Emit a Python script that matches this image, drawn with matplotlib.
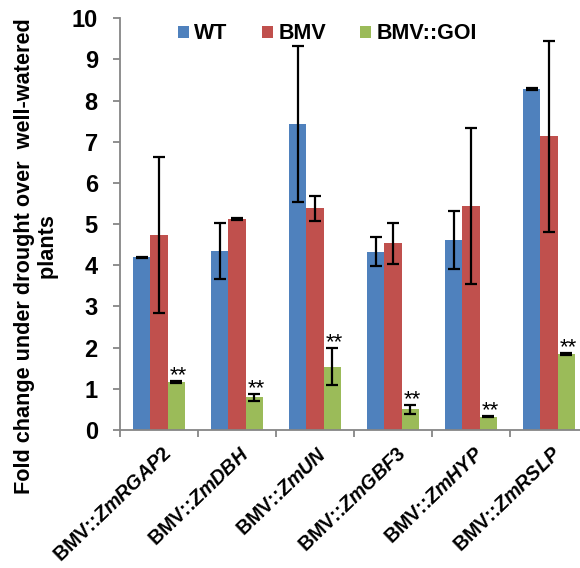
import numpy as np
import matplotlib.pyplot as plt
from matplotlib.transforms import ScaledTranslation

plt.rcParams['font.family'] = 'Liberation Sans'
plt.rcParams['mathtext.fontset'] = 'custom'
plt.rcParams['mathtext.it'] = 'Liberation Sans:italic:bold'
plt.rcParams['mathtext.rm'] = 'Liberation Sans:bold'

genes = ['ZmRGAP2', 'ZmDBH', 'ZmUN', 'ZmGBF3', 'ZmHYP', 'ZmRSLP']
wt = [4.19, 4.34, 7.43, 4.33, 4.61, 8.28]
wt_err = [0.02, 0.68, 1.90, 0.35, 0.71, 0.03]
bmv = [4.73, 5.12, 5.38, 4.53, 5.44, 7.13]
bmv_err = [1.90, 0.02, 0.31, 0.50, 1.90, 2.32]
goi = [1.17, 0.79, 1.54, 0.50, 0.32, 1.84]
goi_err = [0.02, 0.09, 0.44, 0.10, 0.01, 0.03]

series = [('WT', wt, wt_err, '#4F81BD'),
          ('BMV', bmv, bmv_err, '#C0504D'),
          ('BMV::GOI', goi, goi_err, '#9BBB59')]

fig = plt.figure(figsize=(5.8, 5.68), dpi=100)
ax = fig.add_axes([0.207, 0.243, 0.807, 0.725])

x = np.arange(len(genes))
w = 0.222
for i, (name, vals, errs, col) in enumerate(series):
    ax.bar(x + (i - 1) * w, vals, w, color=col, label=name,
           yerr=errs, error_kw=dict(ecolor='black', elinewidth=1.6,
                                    capsize=4.5, capthick=1.6))

# estrellas de significancia sobre las barras BMV::GOI
for xi, v, e in zip(x + w, goi, goi_err):
    ax.annotate('**', (xi, v + e), xytext=(1.5, 0), textcoords='offset points',
                ha='center', va='baseline', fontsize=16)

ax.set_xlim(-0.5, 5.5)
ax.set_ylim(0, 10)
ax.set_yticks(range(0, 11))
ax.tick_params(axis='y', labelsize=17, length=5, width=1.3, color='#868686', pad=11)
for lab in ax.get_yticklabels():
    lab.set_fontweight('bold')

ax.set_xticks(x)
ax.set_xticklabels([r'BMV::$\mathit{%s}$' % g for g in genes], rotation=44,
                   ha='right', va='top', rotation_mode='anchor', fontsize=14.2,
                   fontweight='bold')
ax.tick_params(axis='x', which='major', length=0, pad=10)
shift = ScaledTranslation(0.03, 0, fig.dpi_scale_trans)
for lab in ax.get_xticklabels():
    lab.set_transform(lab.get_transform() + shift)
ax.set_xticks(np.arange(-0.5, 6, 1), minor=True)
ax.tick_params(axis='x', which='minor', length=5, width=1.3, color='#868686')

for s in ['top', 'right']:
    ax.spines[s].set_visible(False)
for s in ['left', 'bottom']:
    ax.spines[s].set_color('#868686')
    ax.spines[s].set_linewidth(1.3)

ax.set_ylabel('Fold change under drought over  well-watered\n   plants',
              fontsize=15.6, fontweight='bold')
ax.yaxis.set_label_coords(-0.130, 0.422)

ax.legend(loc='center left', bbox_to_anchor=(0.124, 0.962), ncol=3,
          frameon=False, prop={'weight': 'bold', 'size': 15.5},
          handlelength=0.5, handleheight=0.5, columnspacing=1.6,
          handletextpad=0.25, borderpad=0, borderaxespad=0)

fig.savefig('out.png', dpi=100)
